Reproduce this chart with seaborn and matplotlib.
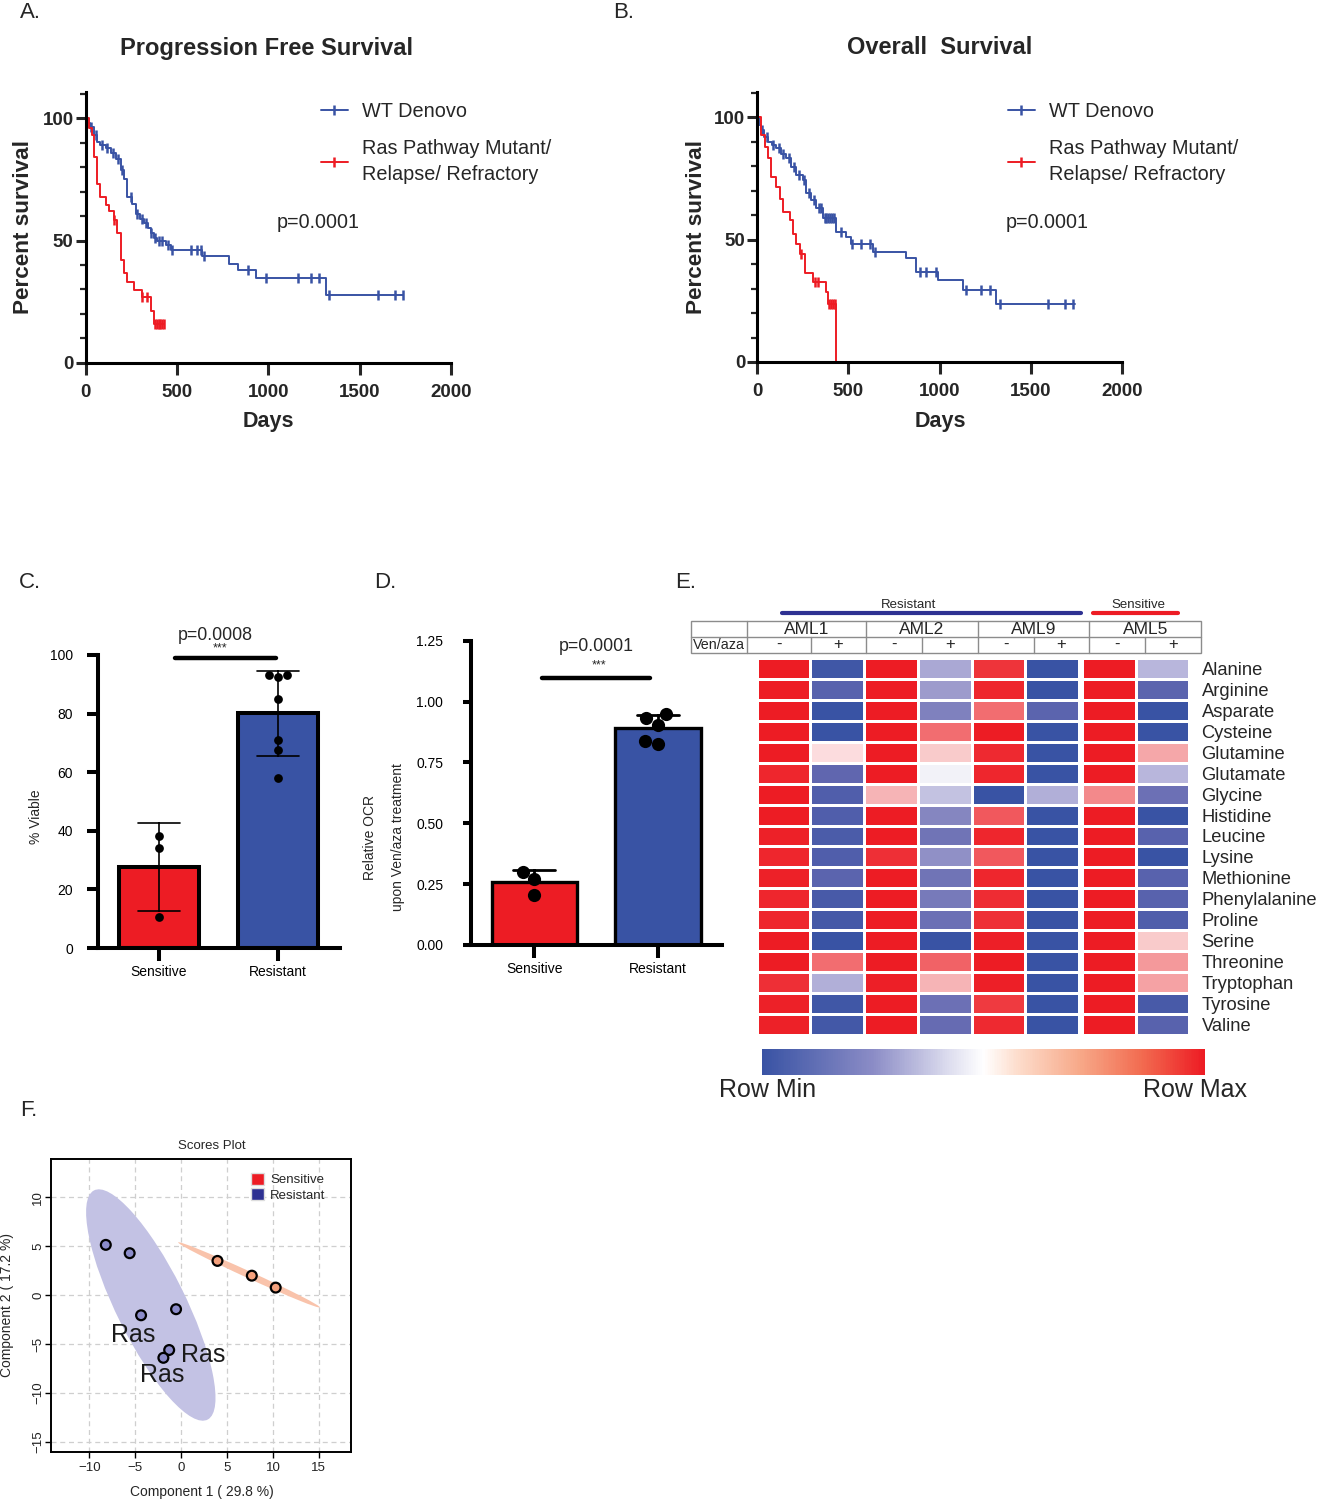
import numpy as np
import pandas as pd
import matplotlib
matplotlib.use('Agg')
import matplotlib.pyplot as plt
import seaborn as sns
from matplotlib.colors import LinearSegmentedColormap, Normalize
from matplotlib.patches import Ellipse, Patch, Rectangle
from matplotlib.lines import Line2D
from matplotlib.cm import ScalarMappable

sns.set_theme(style='white')
plt.rcParams['font.family'] = ['Liberation Sans', 'DejaVu Sans']

W, H = 1317, 1500
RED = '#ed1c24'
BLUE = '#3953a4'

# ---------------- DATA ----------------
# Panel A: progression free survival (step times in days, percent survival)
pfs_wt_t = [0, 15, 27, 45, 64, 82, 110, 137, 165, 192, 210, 228, 256, 274, 300, 320, 340, 356, 375, 393, 439, 466, 640, 786, 832, 932, 1316]
pfs_wt_s = [100, 98, 96.5, 93, 90.5, 89, 88, 86, 83.5, 79, 75, 68, 65, 61, 59, 57, 55, 53, 51, 50, 48, 46, 43.5, 40.5, 38, 34.5, 27.7]
pfs_wt_end = 1737
pfs_wt_cens = [30, 60, 90, 120, 150, 180, 200, 250, 280, 310, 330, 360, 380, 400, 420, 450, 475, 576, 612, 631, 649, 887, 987, 1161, 1234, 1280, 1335, 1600, 1691, 1737]

pfs_ras_t = [0, 20, 35, 46, 64, 82, 110, 128, 155, 174, 192, 210, 225, 265, 311, 356, 375]
pfs_ras_s = [100, 96, 93, 84, 73, 68, 64.5, 62, 58.4, 53, 42, 36.6, 33, 29.7, 27, 21, 16]
pfs_ras_end = 430
pfs_ras_cens = [155, 311, 335, 380, 390, 400, 410, 420, 430]

# Panel B: overall survival
os_wt_t = [0, 12, 24, 40, 60, 80, 106, 130, 160, 188, 215, 252, 270, 297, 325, 361, 434, 489, 516, 635, 818, 872, 991, 1128, 1310]
os_wt_s = [100, 97, 94.8, 92, 90, 88.5, 87.3, 85, 83.2, 79.8, 76.4, 74.4, 68.9, 66.2, 62.8, 58.7, 53.2, 51.2, 48.4, 45, 42.3, 36.8, 33.4, 29.3, 23.9]
os_wt_end = 1739
os_wt_cens = [30, 55, 90, 120, 145, 175, 200, 230, 260, 285, 310, 340, 350, 370, 380, 390, 400, 410, 420, 460, 520, 571, 617, 644, 891, 927, 982, 1146, 1228, 1274, 1328, 1593, 1684, 1730]

os_ras_t = [0, 24, 42, 60, 78, 106, 124, 142, 179, 197, 215, 234, 261, 307, 380, 389, 434]
os_ras_s = [100, 92.8, 88, 83.2, 75.7, 71.6, 66.8, 61.4, 58, 52.5, 48.4, 44.3, 36.2, 32.7, 28.6, 23.9, 0]
os_ras_end = 434
os_ras_cens = [243, 316, 335, 395, 405, 415, 425]

# Panel C: % viable
groups = ['Sensitive', 'Resistant']
viable_sensitive = [38.3, 34.1, 10.6]
viable_resistant = [93.1, 92.6, 93.1, 85.1, 71.0, 67.6, 58.0]

# Panel D: relative OCR
ocr_sensitive = [0.301, 0.27, 0.205]
ocr_resistant = [0.934, 0.947, 0.904, 0.826, 0.838]

# Panel E: heatmap (row-scaled, -1 = row min, 1 = row max)
amino_acids = ['Alanine', 'Arginine', 'Asparate', 'Cysteine', 'Glutamine', 'Glutamate', 'Glycine',
               'Histidine', 'Leucine', 'Lysine', 'Methionine', 'Phenylalanine', 'Proline', 'Serine',
               'Threonine', 'Tryptophan', 'Tyrosine', 'Valine']
aml1_minus = [1, 1, 1, 1, 1, 0.95, 1, 1, 0.97, 0.95, 0.97, 0.95, 0.95, 1, 1, 0.9, 0.97, 0.97]
aml1_plus = [-0.95, -0.8, -1, -1, 0.15, -0.75, -0.85, -0.85, -0.88, -0.85, -0.78, -0.9, -0.92, -1, 0.6, -0.35, -0.95, -0.93]
aml2_minus = [1, 1, 1, 1, 1, 1, 0.35, 1, 1, 0.9, 1, 1, 1, 1, 1, 0.98, 1, 1]
aml2_plus = [-0.4, -0.5, -0.62, 0.6, 0.25, -0.03, -0.25, -0.6, -0.68, -0.55, -0.68, -0.65, -0.7, -1, 0.65, 0.35, -0.7, -0.72]
aml9_minus = [0.88, 0.95, 0.6, 1, 0.93, 0.95, -1, 0.7, 0.95, 0.7, 0.95, 0.92, 0.9, 0.98, 1, 0.98, 0.85, 0.93]
aml9_plus = [-1, -1, -0.78, -1, -1, -1, -0.35, -1, -1, -1, -1, -1, -1, -1, -1, -1, -1, -1]
aml5_minus = [1, 1, 1, 1, 1, 1, 0.5, 1, 1, 1, 1, 1, 1, 1, 1, 1, 1, 1]
aml5_plus = [-0.3, -0.78, -1, -1, 0.4, -0.3, -0.7, -1, -0.8, -1, -0.8, -0.8, -0.85, 0.25, 0.45, 0.42, -0.9, -0.8]
samples = ['AML1', 'AML2', 'AML9', 'AML5']
treat_labels = ['-', '+']

# Panel F: PLS-DA scores
comp1_resistant = [-8.2, -5.6, -4.36, -0.55, -1.3, -1.93]
comp2_resistant = [5.15, 4.3, -2.05, -1.43, -5.6, -6.4]
comp1_sensitive = [3.96, 7.7, 10.3]
comp2_sensitive = [3.51, 2.0, 0.78]
ras_label_x = [-5.23, 2.4, -2.07]
ras_label_y = [-4.07, -6.1, -8.17]
ellipse_res = dict(center=(-3.3, -1.0), width=26.5, height=7.5, angle=-62)
ellipse_sen = dict(center=(7.4, 2.08), width=16.8, height=0.7, angle=-23.3)

# ---------------- FIGURE ----------------
fig = plt.figure(figsize=(W / 100, H / 100), dpi=100)


def px_axes(x0, y0, x1, y1):
    return fig.add_axes([x0 / W, 1 - y1 / H, (x1 - x0) / W, (y1 - y0) / H])


ov = fig.add_axes([0, 0, 1, 1])
ov.set_xlim(0, W)
ov.set_ylim(H, 0)
ov.axis('off')
ov.set_zorder(10)


def ftext(x, y, s, **kw):
    kw.setdefault('ha', 'center')
    kw.setdefault('va', 'center')
    ov.text(x, y, s, **kw)


# panel letters
for lab, x, y in [('A.', 30, 12), ('B.', 624, 12), ('C.', 30, 583), ('D.', 385, 583), ('E.', 686, 583), ('F.', 29, 1110)]:
    ftext(x, y, lab, fontsize=16)


def km(ax, t, s, t_end, cens, color):
    tt = list(t)
    ss = list(s)
    if t_end > tt[-1]:
        tt.append(t_end)
        ss.append(ss[-1])
    sns.lineplot(x=tt, y=ss, drawstyle='steps-post', estimator=None, sort=False,
                 color=color, lw=1.4, ax=ax)
    idx = np.searchsorted(np.array(t), np.array(cens), side='right') - 1
    cs = np.array(s)[idx]
    ax.plot(cens, cs, ls='none', marker='|', ms=7, mew=1.8, color=color)


def surv_axes(x0, x1, y_top, y0, y100):
    ax = px_axes(x0, y_top, x1, y0)
    ax.set_xlim(0, 2000)
    ax.set_ylim(0, 100 * (y0 - y_top) / (y0 - y100))
    for sp in ['top', 'right']:
        ax.spines[sp].set_visible(False)
    for sp in ['left', 'bottom']:
        ax.spines[sp].set_linewidth(2.2)
        ax.spines[sp].set_color('black')
    ax.set_xticks([0, 500, 1000, 1500, 2000])
    ax.set_yticks([0, 50, 100])
    ax.set_yticks(np.arange(0, 111, 10), minor=True)
    ax.tick_params(axis='both', which='major', direction='out', length=8.5, width=2.2,
                   labelsize=13.5, bottom=True, left=True)
    ax.tick_params(axis='x', which='major', pad=6.5)
    ax.tick_params(axis='y', which='major', pad=1.5, length=7)
    ax.tick_params(axis='y', which='minor', direction='out', length=4, width=1.6, left=True)
    for lbl in ax.get_xticklabels() + ax.get_yticklabels():
        lbl.set_fontweight('bold')
    ax.set_xlabel('')
    ax.set_ylabel('')
    return ax


leg_handles = [Line2D([0], [0], color=BLUE, marker='|', ms=7, mew=1.8, lw=1.4),
               Line2D([0], [0], color=RED, marker='|', ms=7, mew=1.8, lw=1.4)]
leg_labels = ['WT Denovo', 'Ras Pathway Mutant/\nRelapse/ Refractory']


def surv_legend(ax, x_px):
    leg = ax.legend(leg_handles, leg_labels, loc='upper left', bbox_to_anchor=(x_px / W, 1 - 102 / H),
                    bbox_transform=fig.transFigure, frameon=False, fontsize=14.3, handlelength=1.35,
                    handletextpad=0.72, labelspacing=0.92, borderpad=0, borderaxespad=0)
    for t in leg.get_texts():
        t.set_linespacing(1.45)
    return leg


# Panel A
axA = surv_axes(85.5, 451, 92, 362.7, 118.3)
km(axA, pfs_wt_t, pfs_wt_s, pfs_wt_end, pfs_wt_cens, BLUE)
km(axA, pfs_ras_t, pfs_ras_s, pfs_ras_end, pfs_ras_cens, RED)
surv_legend(axA, 321)
ftext(267, 48, 'Progression Free Survival', fontsize=17, fontweight='bold')
ftext(318, 222, 'p=0.0001', fontsize=14.2)
ftext(24, 227, 'Percent survival', fontsize=16.2, fontweight='bold', rotation=90)
ftext(268, 422, 'Days', fontsize=15.5, fontweight='bold')

# Panel B
axB = surv_axes(757, 1122.3, 92, 362, 117.3)
km(axB, os_wt_t, os_wt_s, os_wt_end, os_wt_cens, BLUE)
km(axB, os_ras_t, os_ras_s, os_ras_end, os_ras_cens, RED)
surv_legend(axB, 1008)
ftext(940, 48, 'Overall  Survival', fontsize=17, fontweight='bold')
ftext(1047, 222, 'p=0.0001', fontsize=14.2)
ftext(696, 227, 'Percent survival', fontsize=16.2, fontweight='bold', rotation=90)
ftext(940, 422, 'Days', fontsize=15.5, fontweight='bold')


# Panels C and D
def bar_panel(ax, sens, res, width, capsize, bar_lw, err_lw, dot_size, err_below, ytick_len, ytick_pad):
    df = pd.DataFrame({'group': ['Sensitive'] * len(sens) + ['Resistant'] * len(res),
                       'value': list(sens) + list(res)})
    sns.barplot(data=df, x='group', y='value', order=groups, hue='group', hue_order=groups,
                palette={'Sensitive': RED, 'Resistant': BLUE}, legend=False,
                errorbar='sd', capsize=capsize, width=width, edgecolor='black', linewidth=bar_lw,
                err_kws={'color': 'black', 'linewidth': err_lw}, saturation=1, ax=ax)
    if err_below:
        for ln in ax.lines:
            ln.set_zorder(0.5)
        for p in ax.patches:
            p.set_zorder(1)
    sns.swarmplot(data=df, x='group', y='value', order=groups, color='black', size=dot_size,
                  ax=ax, zorder=4)
    for sp in ['top', 'right']:
        ax.spines[sp].set_visible(False)
    for sp in ['left', 'bottom']:
        ax.spines[sp].set_linewidth(2.9)
        ax.spines[sp].set_color('black')
    ax.tick_params(axis='x', direction='out', length=9, width=2.9, labelsize=10, pad=3,
                   bottom=True, colors='black')
    ax.tick_params(axis='y', direction='out', length=ytick_len, width=2.9, labelsize=10, pad=ytick_pad,
                   left=True, colors='black')
    ax.set_xlabel('')
    ax.set_ylabel('')


axC = px_axes(98, 655, 340, 948)
bar_panel(axC, viable_sensitive, viable_resistant, 0.67, 0.35, 2.9, 1.2, 6.3, False, 8, 10)
axC.set_ylim(0, 100)
axC.set_xlim(-0.513, 1.52)
axC.set_yticks([0, 20, 40, 60, 80, 100])
axC.plot([0.134, 0.983], [99, 99], color='black', lw=3.2, solid_capstyle='round', clip_on=False)
axC.text(0.47, 106.8, 'p=0.0008', ha='center', va='center', fontsize=12.8)
axC.text(0.51, 100.2, '***', ha='center', va='bottom', fontsize=9)
ftext(36, 817, '% Viable', fontsize=10, rotation=90)

axD = px_axes(471, 640.7, 722, 945)
bar_panel(axD, ocr_sensitive, ocr_resistant, 0.69, 0.34, 2.4, 2.0, 9.5, True, 6, 14)
axD.set_ylim(0, 1.25)
axD.set_xlim(-0.514, 1.518)
axD.set_yticks([0, 0.25, 0.5, 0.75, 1.0, 1.25])
axD.set_yticklabels(['0.00', '0.25', '0.50', '0.75', '1.00', '1.25'])
axD.plot([0.06, 0.935], [1.097, 1.097], color='black', lw=3.2, solid_capstyle='round', clip_on=False)
axD.text(0.5, 1.228, 'p=0.0001', ha='center', va='center', fontsize=12.8)
axD.text(0.52, 1.125, '***', ha='center', va='bottom', fontsize=9)
ftext(384, 837, 'Relative OCR\nupon Ven/aza treatment', fontsize=10, rotation=90, linespacing=2.3)

# Panel E heatmap
heat_cmap = LinearSegmentedColormap.from_list('heat', [
    (0.0, '#3953a4'), (0.125, '#6066af'), (0.25, '#9d9bcc'), (0.35, '#b8b6dc'),
    (0.5, '#f8f8fb'), (0.575, '#fcdcdf'), (0.625, '#f9cccc'), (0.7, '#f5a8aa'),
    (0.8, '#f26d70'), (1.0, '#ed1c24')])
cols_res = ['AML1 -', 'AML1 +', 'AML2 -', 'AML2 +', 'AML9 -', 'AML9 +']
cols_sen = ['AML5 -', 'AML5 +']
df_res = pd.DataFrame(dict(zip(cols_res, [aml1_minus, aml1_plus, aml2_minus, aml2_plus, aml9_minus, aml9_plus])),
                      index=amino_acids)
df_sen = pd.DataFrame(dict(zip(cols_sen, [aml5_minus, aml5_plus])), index=amino_acids)

axER = px_axes(756.6, 658.3, 1079, 1034.5)
sns.heatmap(df_res, cmap=heat_cmap, vmin=-1, vmax=1, cbar=False, linewidths=1.8, linecolor='white',
            xticklabels=False, yticklabels=False, ax=axER)
axES = px_axes(1082, 658.3, 1189, 1034.5)
sns.heatmap(df_sen, cmap=heat_cmap, vmin=-1, vmax=1, cbar=False, linewidths=1.8, linecolor='white',
            xticklabels=False, yticklabels=True, ax=axES)
axES.yaxis.tick_right()
axES.tick_params(axis='y', length=0, pad=9, labelsize=13.2, labelright=True, labelleft=False)
plt.setp(axES.get_yticklabels(), rotation=0, ha='left')
axES.set_xlabel('')
axES.set_ylabel('')
axER.set_xlabel('')
axER.set_ylabel('')

# header table
tc = '#8c8c8c'
ov.add_patch(Rectangle((691, 620.7), 1201 - 691, 652.7 - 620.7, fill=False, edgecolor=tc, lw=1.0))
ov.plot([691, 1201], [636.7, 636.7], color=tc, lw=1.0)
grp_edges = [746.5, 866, 978, 1089.4, 1201]
sub_edges = [810.6, 922, 1033.5, 1145.3]
for xg in grp_edges[:-1]:
    ov.plot([xg, xg], [620.7, 652.7], color=tc, lw=1.0)
for xs in sub_edges:
    ov.plot([xs, xs], [636.7, 652.7], color=tc, lw=1.0)
for i, nm in enumerate(samples):
    ftext((grp_edges[i] + grp_edges[i + 1]) / 2, 629, nm, fontsize=12.5)
    ftext((grp_edges[i] + sub_edges[i]) / 2, 644.0, treat_labels[0], fontsize=12)
    ftext((sub_edges[i] + grp_edges[i + 1]) / 2, 644.0, treat_labels[1], fontsize=12)
ftext(718.7, 644.7, 'Ven/aza', fontsize=10.3)
ov.plot([781.6, 1080.8], [613.3, 613.3], color='#2e3192', lw=3)
ov.plot([1093, 1178], [613.3, 613.3], color=RED, lw=3)
ftext(908.6, 604.5, 'Resistant', fontsize=9.5)
ftext(1138, 604.5, 'Sensitive', fontsize=9.5)

# colorbar
cbar_cmap = LinearSegmentedColormap.from_list('cb', [
    (0.0, '#3953a4'), (0.25, '#8b8cc6'), (0.42, '#dcdcee'), (0.5, '#ffffff'),
    (0.58, '#fddccb'), (0.72, '#f7a888'), (0.86, '#f26b50'), (1.0, '#ed1c24')])
cax = px_axes(762, 1049, 1204.5, 1075)
cb = fig.colorbar(ScalarMappable(norm=Normalize(-1, 1), cmap=cbar_cmap), cax=cax, orientation='horizontal')
cb.set_ticks([])
cb.outline.set_visible(False)
ftext(768, 1090, 'Row Min', fontsize=18)
ftext(1195, 1090, 'Row Max', fontsize=18)

# Panel F
axF = px_axes(50.7, 1159.3, 351, 1451.7)
axF.set_xlim(-14.2, 18.5)
axF.set_ylim(-16.0, 13.9)
axF.set_axisbelow(True)
axF.add_patch(Ellipse(ellipse_res['center'], ellipse_res['width'], ellipse_res['height'],
                      angle=ellipse_res['angle'], facecolor='#c3c2e4', edgecolor='none', zorder=1))
axF.add_patch(Ellipse(ellipse_sen['center'], ellipse_sen['width'], ellipse_sen['height'],
                      angle=ellipse_sen['angle'], facecolor='#f9c3ab', edgecolor='none', zorder=1))
dfF = pd.DataFrame({'c1': comp1_sensitive + comp1_resistant,
                    'c2': comp2_sensitive + comp2_resistant,
                    'group': ['Sensitive'] * 3 + ['Resistant'] * 6})
sns.scatterplot(data=dfF, x='c1', y='c2', hue='group', palette={'Sensitive': '#f4a07c', 'Resistant': '#8c8cca'},
                edgecolor='black', linewidth=1.6, s=50, legend=False, ax=axF, zorder=3)
for xr, yr in zip(ras_label_x, ras_label_y):
    axF.text(xr, yr, 'Ras', ha='center', va='center', fontsize=18, color='#1a1a1a', zorder=4)
axF.set_xticks([-10, -5, 0, 5, 10, 15])
axF.set_yticks([-15, -10, -5, 0, 5, 10])
axF.grid(True, ls=(0, (4, 3)), color='#cfcfcf', lw=0.9)
for sp in axF.spines.values():
    sp.set_visible(True)
    sp.set_color('black')
    sp.set_linewidth(1.4)
axF.tick_params(axis='x', direction='out', length=4, width=1, labelsize=9.5, colors='black',
                bottom=True, labelcolor='#222222', pad=3.5)
axF.tick_params(axis='y', direction='out', length=4, width=1, labelsize=9.5, colors='black',
                left=True, labelcolor='#222222', pad=0.5)
plt.setp(axF.get_yticklabels(), rotation=90, va='center')
axF.set_xlabel('')
axF.set_ylabel('')
axF.legend(handles=[Patch(facecolor=RED, edgecolor='#dddddd'), Patch(facecolor='#2e3192', edgecolor='#dddddd')],
           labels=['Sensitive', 'Resistant'], loc='upper left', bbox_to_anchor=(251 / W, 1 - 1173 / H),
           bbox_transform=fig.transFigure, frameon=False, fontsize=9.5, handlelength=1.0, handleheight=1.0,
           handletextpad=0.45, labelspacing=0.15, borderpad=0, borderaxespad=0)
ftext(212, 1146, 'Scores Plot', fontsize=9.5)
ftext(202, 1492, 'Component 1 ( 29.8 %)', fontsize=10)
ftext(7, 1305, 'Component 2 ( 17.2 %)', fontsize=10, rotation=90)

fig.savefig('out.png', dpi=100)
